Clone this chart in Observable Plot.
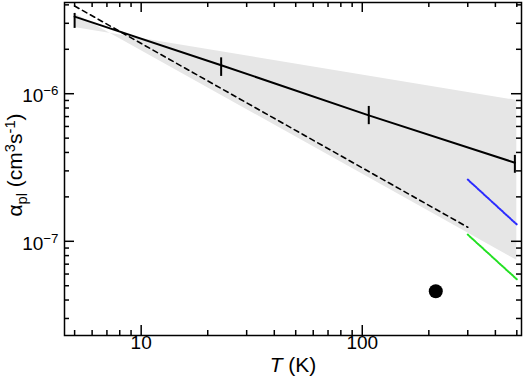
<!DOCTYPE html>
<html><head><meta charset="utf-8">
<script src="https://cdn.jsdelivr.net/npm/d3@7"></script>
<script src="https://cdn.jsdelivr.net/npm/@observablehq/plot@0.6"></script>
<style>body{margin:0;background:#fff;} svg{display:block;}</style>
</head><body><div id="chart"></div>
<script>
// Measured points with error bars (solid line)
const pointT = [5, 23, 107, 490];
const pointAlpha = [3.33e-6, 1.56e-6, 7.13e-7, 3.41e-7];
const pointLow = [2.77e-6, 1.31e-6, 6.17e-7, 2.89e-7];
const pointHigh = [3.50e-6, 1.75e-6, 8.2e-7, 3.82e-7];
// Shaded uncertainty band (two crossing bounding lines)
const bandT = [5, 500];
const bandLineA = [3.5e-6, 7.43e-8];
const bandLineB = [2.81e-6, 9.0e-7];
// Dashed line
const dashedT = [5, 300];
const dashedAlpha = [3.93e-6, 1.245e-7];
// Blue dotted line
const blueT = [300, 500];
const blueAlpha = [2.62e-7, 1.30e-7];
// Green dotted line
const greenT = [300, 500];
const greenAlpha = [1.11e-7, 5.53e-8];
// Single black point
const dotT = [215];
const dotAlpha = [4.59e-8];
// Ticks
const xMajor = [10, 100];
const xMinor = [5, 6, 7, 8, 9, 20, 30, 40, 50, 60, 70, 80, 90, 200, 300, 400, 500];
const yMajor = [1e-7, 1e-6];
const yMinor = [3e-8, 4e-8, 5e-8, 6e-8, 7e-8, 8e-8, 9e-8, 2e-7, 3e-7, 4e-7, 5e-7, 6e-7, 7e-7, 8e-7, 9e-7, 2e-6, 3e-6, 4e-6];
const xTickLabels = ["10", "100"];
const yTickLabels = ["10|^\u22127", "10|^\u22126"];
const xTitle = "*T| (K)";
const yTitle = "\u03b1|_pl| (cm|^3|s|^-1|)";

const W = 525, H = 384, mL = 64, mR = 4, mT = 2, mB = 49;
const plotW = W - mL - mR, plotH = H - mT - mB;

const points = pointT.map((T, i) => ({T, a: pointAlpha[i], lo: pointLow[i], hi: pointHigh[i]}));
const band = bandT.map((T, i) => ({T, a: bandLineA[i], b: bandLineB[i]}));
const dashed = dashedT.map((T, i) => ({T, a: dashedAlpha[i]}));
const blue = blueT.map((T, i) => ({T, a: blueAlpha[i]}));
const green = greenT.map((T, i) => ({T, a: greenAlpha[i]}));
const dot = dotT.map((T, i) => ({T, a: dotAlpha[i]}));

const tickW = 1.5;
const chart = Plot.plot({
  width: W, height: H,
  marginLeft: mL, marginRight: mR, marginTop: mT, marginBottom: mB,
  style: {fontFamily: "'Liberation Sans', Arial, sans-serif", background: "#fff", color: "#000"},
  x: {type: "log", domain: [4.5, 525], axis: null},
  y: {type: "log", domain: [2.3e-8, 4.15e-6], axis: null},
  marks: [
    Plot.areaY(band, {x: "T", y1: "a", y2: "b", fill: "#e6e6e6"}),
    Plot.line(dashed, {x: "T", y: "a", stroke: "#000", strokeWidth: 1.6, strokeDasharray: "5,4"}),
    Plot.line(points, {x: "T", y: "a", stroke: "#000", strokeWidth: 2}),
    Plot.ruleX(points, {x: "T", y1: "lo", y2: "hi", stroke: "#000", strokeWidth: 2}),
    Plot.line(blue, {x: "T", y: "a", stroke: "#2a2aff", strokeWidth: 2, strokeDasharray: "1.5,1.2"}),
    Plot.line(green, {x: "T", y: "a", stroke: "#22e022", strokeWidth: 2, strokeDasharray: "1.5,1.2"}),
    Plot.dot(dot, {x: "T", y: "a", r: 7, fill: "#000"}),
    Plot.frame({stroke: "#000", strokeWidth: 1.5}),
    // bottom ticks
    Plot.tickX(xMinor, {x: d => d, insetTop: plotH - 5, strokeWidth: tickW}),
    Plot.tickX(xMajor, {x: d => d, insetTop: plotH - 10, strokeWidth: tickW}),
    // top ticks
    Plot.tickX(xMinor, {x: d => d, insetBottom: plotH - 5, strokeWidth: tickW}),
    Plot.tickX(xMajor, {x: d => d, insetBottom: plotH - 10, strokeWidth: tickW}),
    // left ticks
    Plot.tickY(yMinor, {y: d => d, insetRight: plotW - 5, strokeWidth: tickW}),
    Plot.tickY(yMajor, {y: d => d, insetRight: plotW - 10, strokeWidth: tickW}),
    // right ticks
    Plot.tickY(yMinor, {y: d => d, insetLeft: plotW - 5, strokeWidth: tickW}),
    Plot.tickY(yMajor, {y: d => d, insetLeft: plotW - 10, strokeWidth: tickW}),
    // tick labels
    Plot.text(xMajor, {x: d => d, text: (d, i) => xTickLabels[i], frameAnchor: "bottom", dy: 13, textAnchor: "middle", fontSize: 19, fill: "#000"}),
    Plot.text(yMajor, {y: d => d, text: (d, i) => yTickLabels[i], frameAnchor: "left", dx: -6, dy: 2.5, textAnchor: "end", fontSize: 19, fill: "#000"}),
    // axis titles
    Plot.text([xTitle], {text: d => d, frameAnchor: "bottom", dy: 36, textAnchor: "middle", fontSize: 21, fill: "#000"}),
    Plot.text([yTitle], {text: d => d, frameAnchor: "left", dx: -49, dy: -4, rotate: -90, textAnchor: "middle", fontSize: 21, fill: "#000"})
  ]
});
document.getElementById("chart").appendChild(chart);

// rich text: segments split by "|", "^" superscript, "_" subscript, "*" italic
d3.select(chart).selectAll("text").each(function() {
  const t = this.textContent;
  if (!t.includes("|") && !t.startsWith("*")) return;
  const F = parseFloat(getComputedStyle(this).fontSize) || 18;
  this.textContent = "";
  let shift = 0;
  for (const seg of t.split("|")) {
    if (!seg) continue;
    const ts = document.createElementNS("http://www.w3.org/2000/svg", "tspan");
    let txt = seg, size = F, target = 0;
    if (seg[0] === "^") { txt = seg.slice(1); size = 0.7 * F; target = -0.36 * F; }
    else if (seg[0] === "_") { txt = seg.slice(1); size = 0.7 * F; target = 0.25 * F; }
    else if (seg[0] === "*") { txt = seg.slice(1); ts.setAttribute("font-style", "italic"); }
    ts.setAttribute("font-size", size);
    if (target - shift !== 0) ts.setAttribute("dy", target - shift);
    shift = target;
    ts.textContent = txt;
    this.appendChild(ts);
  }
});
</script>
</body></html>
